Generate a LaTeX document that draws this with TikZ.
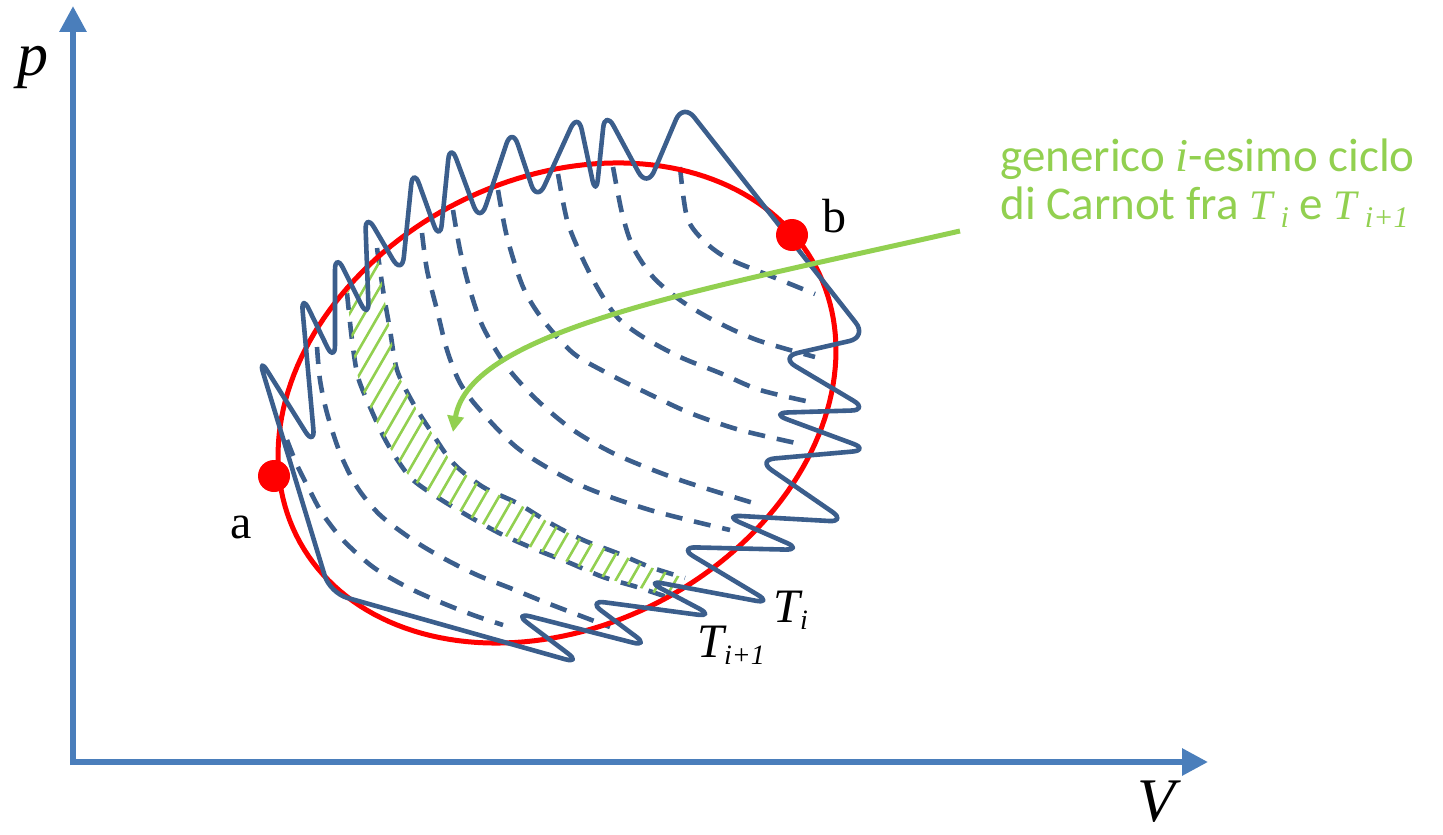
\documentclass[tikz,border=0pt]{standalone}
\usepackage{fontspec}
\setmainfont{Liberation Serif}
\newfontfamily\carlito{Carlito}
\usetikzlibrary{arrows.meta}
\definecolor{axisblue}{RGB}{74,126,187}
\definecolor{curveblue}{RGB}{59,94,140}
\definecolor{lgreen}{RGB}{146,208,80}
\newcommand\sit[1]{{\rmfamily\itshape #1}}
\newcommand\Tg[1]{{\fontsize{21}{24}\selectfont\sit{T}}\kern4pt\raisebox{-4pt}{\fontsize{15}{15}\selectfont\sit{#1}}}
\newcommand\Tb[1]{\sit{T}\raisebox{-3.5pt}{\fontsize{14}{14}\selectfont\sit{#1}}}
\begin{document}
\begin{tikzpicture}[x=0.5pt,y=-0.5pt,
  axis/.style={draw=axisblue,line width=3pt,-{Triangle[length=13pt,width=13pt]}},
  wave/.style={draw=curveblue,line width=2.3pt,rounded corners=9pt,line join=round},
  adiab/.style={draw=curveblue,line width=2.3pt,dash pattern=on 8.5pt off 6pt},
  cyc/.style={draw=red,line width=2.5pt},
  hatch/.style={draw=lgreen,line width=1.3pt},
  garrow/.style={draw=lgreen,line width=2.5pt,-{Triangle[length=8pt,width=8pt]}},
  dot/.style={circle,fill=red,minimum size=16pt,inner sep=0pt},
  lbl/.style={inner sep=0pt,font=\fontsize{24}{24}\selectfont},
  big/.style={inner sep=0pt,font=\fontsize{31}{31}\selectfont\itshape},
  gtext/.style={inner sep=0pt,text=lgreen,align=left,font=\carlito\fontsize{23.5}{24}\selectfont}]
\useasboundingbox (0,0) rectangle (1443,834);

% axes
\coordinate (O) at (73,762);
\coordinate (ptip) at (73,6);
\coordinate (vtip) at (1208,762);
\draw[axis] ([yshift=-1.5pt]O) -- (ptip);
\draw[axis] ([xshift=-1.5pt]O) -- (vtip);
\node[big,anchor=base] (plab) at (33,76) {p};
\node[big,anchor=base] (vlab) at (1156,821) {V};

% dashed family
\draw[adiab] plot[smooth] coordinates {(680,167) (687,217) (703,240) (727,258) (773,277) (815,294)};
\draw[adiab] plot[smooth] coordinates {(613,167) (622,213) (633,247) (653,277) (680,300) (713,320) (757,340) (815,357)};
\draw[adiab] plot[smooth] coordinates {(558,174) (567,220) (580,253) (597,287) (617,317) (643,337) (680,357) (720,373) (760,390) (815,403)};
\draw[adiab] plot[smooth] coordinates {(498,190) (507,237) (523,287) (543,320) (573,353) (607,373) (647,393) (690,413) (740,430) (805,445)};
\draw[adiab] plot[smooth] coordinates {(453,210) (460,250) (470,290) (483,327) (507,367) (537,400) (573,430) (617,455) (680,480) (760,505)};
\draw[adiab] plot[smooth] coordinates {(422,233) (427,270) (437,310) (447,350) (460,383) (480,410) (520,450) (580,485) (650,510) (730,530)};
\draw[adiab] plot[smooth] coordinates {(377,248) (383,290) (390,330) (397,370) (413,403) (432,433) (453,463) (483,487) (517,503) (550,523) (583,540) (617,553) (650,567) (685,578)};
\draw[adiab] plot[smooth] coordinates {(347,293) (352,340) (358,377) (370,407) (387,443) (410,477) (437,497) (470,517) (503,535) (537,550) (570,563) (603,577) (637,587) (670,598)};
\draw[adiab] plot[smooth] coordinates {(317,347) (320,380) (327,413) (340,453) (357,487) (380,515) (413,540) (443,558) (477,575) (510,588) (547,603) (610,627)};
\draw[adiab] plot[smooth] coordinates {(287,440) (297,465) (308,487) (322,513) (343,540) (373,567) (407,587) (440,602) (473,615) (503,625)};

% hatched band
\begin{scope}
\clip plot[smooth] coordinates {(347,293) (352,340) (358,377) (370,407) (387,443) (410,477) (437,497) (470,517) (503,535) (537,550) (570,563) (603,577) (637,587) (670,598)}
  -- plot[smooth] coordinates {(685,578) (650,567) (617,553) (583,540) (550,523) (517,503) (483,487) (453,463) (432,433) (413,403) (397,370) (390,330) (383,290) (377,248)} -- cycle;
\foreach \k in {0,...,48} \draw[hatch] ({40+15*\k},720) -- ++(300,-519.6);
\end{scope}

% reversible cycle
\draw[cyc] plot[domain=0:360,samples=180] ({557+258.9*cos(\x)+103.9*sin(\x)},{403-135.9*cos(\x)+197.9*sin(\x)}) -- cycle;

% zigzag approximation
\draw[wave] (258,356) -- (315,447) -- (301,293) -- (335,363) -- (335,252) -- (369,320) -- (365,212) -- (402,275)
  -- (413,167) -- (440,242) -- (450,142) -- (480,223) -- (512,127) -- (537,202) -- (578,112) -- (596,197)
  -- (605,110) -- (647,188) -- (683,103) -- (867,337) -- (780,357) -- (869,410) -- (770,413) -- (870,450)
  -- (757,460) -- (847,522) -- (723,515) -- (803,550) -- (678,547) -- (773,604) -- (645,580) -- (715,617)
  -- (587,600) -- (650,647) -- (513,612) -- (582,664) -- (330,593) -- cycle;

% states
\node[dot] (a) at (274,476) {};
\node[dot] (b) at (792,235) {};
\node[lbl,anchor=base] (alab) at (241,538) {a};
\node[lbl,anchor=base] (blab) at (834,233) {b};
\node[lbl,anchor=base west] (ti) at (773,622) {\Tb{i}};
\node[lbl,anchor=base west] (ti1) at (697,657) {\Tb{i+1}};

% annotation
\node[gtext,anchor=base west] (note) at (1000,220) {generico \sit{i}-esimo ciclo\\di Carnot fra \Tg{i} e \Tg{i+1}};
\coordinate (gstart) at (960,231);
\coordinate (gend) at (453,432);
\draw[garrow] (gstart) .. controls (700,290) and (470,330) .. (gend);
\end{tikzpicture}
\end{document}
